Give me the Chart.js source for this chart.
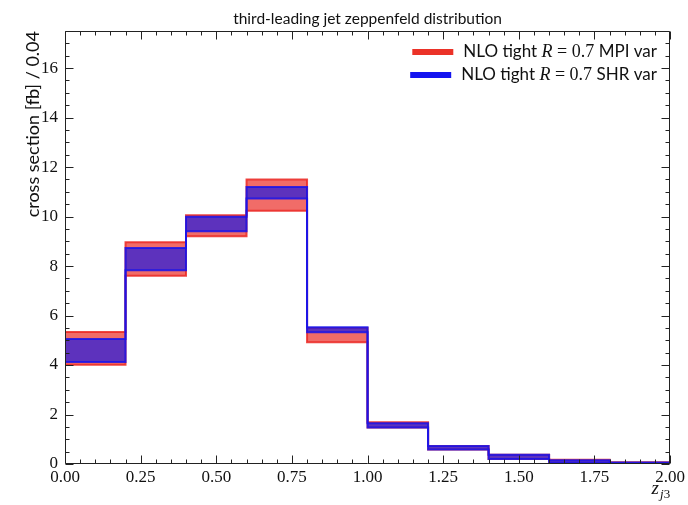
<!DOCTYPE html>
<html>
<head>
<meta charset="utf-8">
<script src="https://cdn.jsdelivr.net/npm/chart.js@4.4.1/dist/chart.umd.min.js"></script>
<style>
  html, body { margin: 0; padding: 0; background: #fff; }
  #wrap { width: 688px; height: 505px; }
</style>
</head>
<body>
<div id="wrap"><canvas id="zep"></canvas></div>
<script>
// z_j3 bin edges and per-bin variation bands, cross section [fb] / 0.04
const binEdges = [0, 0.2, 0.4, 0.6, 0.8, 1.0, 1.2, 1.4, 1.6, 1.8, 2.0];
const mpiLow  = [4.01, 7.61, 9.20, 10.24, 4.92, 1.48, 0.59, 0.20, 0.05, 0.02];
const mpiHigh = [5.33, 8.96, 10.05, 11.50, 5.50, 1.69, 0.73, 0.37, 0.17, 0.07];
const shrLow  = [4.12, 7.83, 9.41, 10.73, 5.32, 1.48, 0.59, 0.20, 0.05, 0.02];
const shrHigh = [5.05, 8.73, 9.99, 11.20, 5.53, 1.65, 0.73, 0.37, 0.15, 0.06];
const xTicks = [0, 0.25, 0.5, 0.75, 1.0, 1.25, 1.5, 1.75, 2.0];
const yTicks = [0, 2, 4, 6, 8, 10, 12, 14, 16];

const RED = 'rgba(235, 45, 40, 0.7)';
const RED_LINE = 'rgba(235, 40, 35, 0.85)';
const BLUE = 'rgba(30, 25, 225, 0.7)';
const BLUE_LINE = 'rgba(25, 20, 235, 0.85)';

const SANS = 'Lato';
const SERIF = 'Liberation Serif';
const TITLE = 'third-leading jet zeppenfeld distribution';

// histogram edges as step points, last value repeated at the closing edge
function steps(vals) {
    return binEdges.map((x, i) => ({ x: x, y: vals[Math.min(i, vals.length - 1)] }));
}

function band(vals, color, line, fill, order) {
    return {
        data: steps(vals),
        stepped: true,
        borderColor: line,
        backgroundColor: color,
        borderWidth: 2,
        pointRadius: 0,
        fill: fill,
        order: order
    };
}

// inward major/minor ticks on all four sides, the frame, title and x label
const frameTicks = {
    id: 'frameTicks',
    afterDraw(chart) {
        const { ctx, chartArea: a, scales: { x, y } } = chart;
        const L = Math.round(a.left) + 0.5, R = Math.round(a.right) - 0.5;
        const T = Math.round(a.top) + 0.5, B = Math.round(a.bottom) - 0.5;
        ctx.save();
        ctx.strokeStyle = '#222';
        ctx.lineWidth = 1;
        ctx.beginPath();
        ctx.rect(L, T, R - L, B - T);
        for (let k = 0; k <= 40; k++) {
            const v = k * 0.05;
            const len = (k % 5 === 0) ? 8 : 4;
            const px = Math.round(x.getPixelForValue(v)) + 0.5;
            ctx.moveTo(px, B); ctx.lineTo(px, B - len);
            ctx.moveTo(px, T); ctx.lineTo(px, T + len);
        }
        for (let k = 0; k <= 35; k++) {
            const v = k * 0.5;
            const len = (k % 4 === 0) ? 8 : 4;
            const py = Math.round(y.getPixelForValue(v)) + 0.5;
            ctx.moveTo(L, py); ctx.lineTo(L + len, py);
            ctx.moveTo(R, py); ctx.lineTo(R - len, py);
        }
        ctx.stroke();

        // title centred over the plot area
        ctx.fillStyle = '#111';
        ctx.textAlign = 'center';
        ctx.textBaseline = 'alphabetic';
        ctx.font = '15.5px ' + SANS;
        ctx.fillText(TITLE, (a.left + a.right) / 2, 24);

        // x axis label z_{j3}
        ctx.textAlign = 'left';
        ctx.font = 'italic 13px ' + SERIF;
        const subW = ctx.measureText('j').width;
        ctx.font = '13px ' + SERIF;
        const sub3 = ctx.measureText('3').width;
        ctx.font = 'italic 19px ' + SERIF;
        const zW = ctx.measureText('z').width;
        let xx = a.right - (zW + subW + sub3 + 1);
        ctx.fillText('z', xx, 494);
        xx += zW + 1;
        ctx.font = 'italic 13px ' + SERIF;
        ctx.fillText('j', xx, 498);
        ctx.font = '13px ' + SERIF;
        ctx.fillText('3', xx + subW, 498);
        ctx.restore();
    }
};

// legend rows with a thick swatch and mixed sans / math text
const legendRows = [
    { color: 'rgb(235, 50, 40)', tail: 'MPI var' },
    { color: 'rgb(20, 20, 240)', tail: 'SHR var' }
];

const mathLegend = {
    id: 'mathLegend',
    afterDraw(chart) {
        const ctx = chart.ctx;
        const right = 657;
        ctx.save();
        ctx.fillStyle = '#111';
        ctx.textBaseline = 'middle';
        legendRows.forEach((row, i) => {
            const yy = 52 + i * 23;
            const parts = [
                { t: 'NLO tight ', f: '17px ' + SANS },
                { t: 'R', f: 'italic 18px ' + SERIF },
                { t: ' = 0.7 ', f: '18px ' + SERIF },
                { t: row.tail, f: '17px ' + SANS }
            ];
            let w = 0;
            parts.forEach(p => { ctx.font = p.f; p.w = ctx.measureText(p.t).width; w += p.w; });
            let xx = right - w;
            ctx.fillStyle = row.color;
            ctx.fillRect(xx - 51, yy - 3, 41, 6);
            ctx.fillStyle = '#111';
            parts.forEach(p => { ctx.font = p.f; ctx.fillText(p.t, xx, yy); xx += p.w; });
        });
        ctx.restore();
    }
};

new Chart(document.getElementById('zep'), {
    type: 'line',
    data: {
        datasets: [
            band(mpiLow, RED, RED_LINE, false, 2),
            band(mpiHigh, RED, RED_LINE, '-1', 2),
            band(shrLow, BLUE, BLUE_LINE, false, 1),
            band(shrHigh, BLUE, BLUE_LINE, '-1', 1)
        ]
    },
    options: {
        responsive: true,
        maintainAspectRatio: false,
        animation: false,
        layout: { padding: { left: 0, right: 16, top: 31, bottom: 0 } },
        elements: { line: { tension: 0 } },
        plugins: {
            legend: { display: false },
            tooltip: { enabled: false },
            title: { display: false }
        },
        scales: {
            x: {
                type: 'linear',
                min: 0,
                max: 2,
                afterBuildTicks: s => { s.ticks = xTicks.map(v => ({ value: v })); },
                afterFit: s => { s.height = 41; },
                grid: { display: false, drawTicks: false },
                border: { display: false },
                ticks: {
                    color: '#111',
                    padding: 3,
                    maxRotation: 0,
                    font: { family: SERIF, size: 17 },
                    callback: v => v.toFixed(2)
                }
            },
            y: {
                type: 'linear',
                min: 0,
                max: 17.5,
                afterBuildTicks: s => { s.ticks = yTicks.map(v => ({ value: v })); },
                afterFit: s => { s.width = 65; },
                grid: { display: false, drawTicks: false },
                border: { display: false },
                ticks: {
                    color: '#111',
                    padding: 7,
                    font: { family: SERIF, size: 17 },
                    callback: v => String(v)
                },
                title: {
                    display: true,
                    text: 'cross section [fb] / 0.04',
                    align: 'end',
                    color: '#111',
                    font: { family: SANS, size: 18 },
                    padding: { top: 22, bottom: 0 }
                }
            }
        }
    },
    plugins: [frameTicks, mathLegend]
});
</script>
</body>
</html>
